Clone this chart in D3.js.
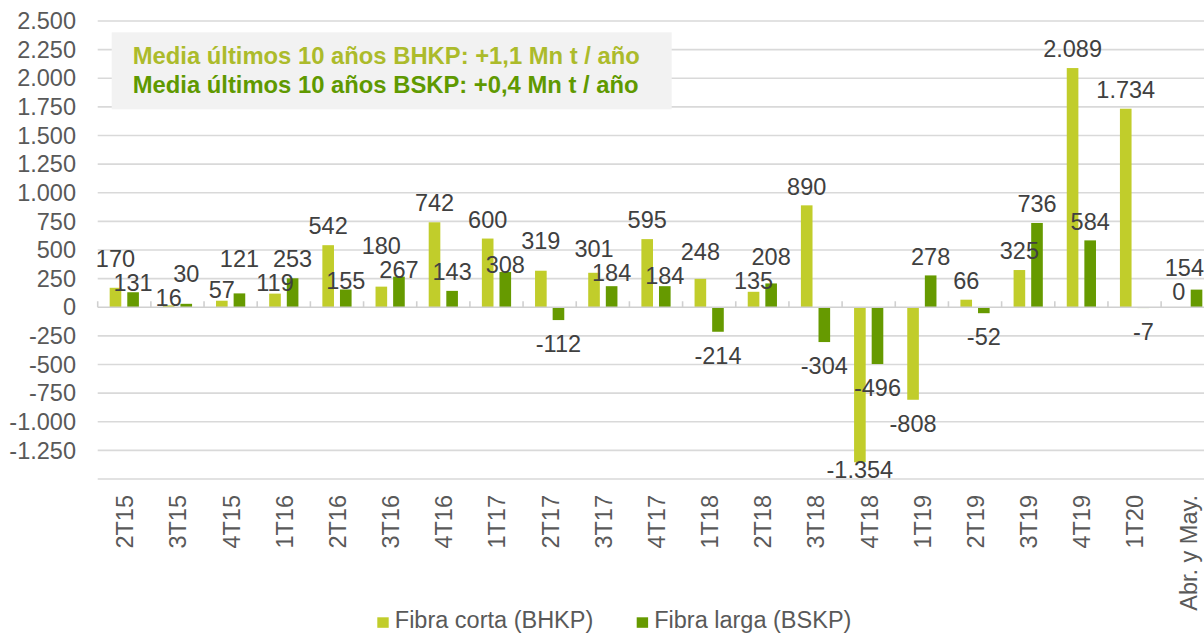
<!DOCTYPE html>
<html>
<head>
<meta charset="utf-8">
<script src="https://cdn.jsdelivr.net/npm/d3@7"></script>
<style>
  html, body { margin: 0; padding: 0; background: #ffffff; }
  svg { display: block; font-family: "Liberation Sans", Arial, sans-serif; }
</style>
</head>
<body>
<svg id="chart" width="1204" height="633"></svg>
<script>
const categories = ["2T15","3T15","4T15","1T16","2T16","3T16","4T16","1T17","2T17","3T17","4T17",
                    "1T18","2T18","3T18","4T18","1T19","2T19","3T19","4T19","1T20","Abr. y May."];
const bhkp = [170, 16, 57, 119, 542, 180, 742, 600, 319, 301, 595, 248, 135, 890, -1354, -808, 66, 325, 2089, 1734, 0];
const bskp = [131, 30, 121, 253, 155, 267, 143, 308, -112, 184, 184, -214, 208, -304, -496, 278, -52, 736, 584, -7, 154];
const seriesNames = ["Fibra corta (BHKP)", "Fibra larga (BSKP)"];
const yTickValues = [-1250, -1000, -750, -500, -250, 0, 250, 500, 750, 1000, 1250, 1500, 1750, 2000, 2250, 2500];
const gridValues = [-1500, -1250, -1000, -750, -500, -250, 250, 500, 750, 1000, 1250, 1500, 1750, 2000, 2250, 2500];
const yDomain = [-1500, 2500];
const noteLines = ["Media últimos 10 años BHKP: +1,1 Mn t / año", "Media últimos 10 años BSKP: +0,4 Mn t / año"];

(function () {
const colors = ["#c1cd2b", "#669a00"];
const noteColors = ["#acbb2b", "#5f9900"];
const FS = "23.5px";
const W = 1204;

const svg = d3.select("#chart");
const locale = d3.formatLocale({decimal: ",", thousands: ".", grouping: [3], currency: ["", ""], minus: "-"});
const fmt = locale.format(",d");

const pLeft = 97.7, pRight = 1214.3, pTop = 21, pBottom = 479;
const x = d3.scaleBand().domain(categories).range([pLeft, pRight]).paddingInner(0).paddingOuter(0);
const xs = d3.scaleBand().domain([0, 1]).range([0, x.bandwidth()]).paddingInner(0.34).paddingOuter(0.68);
const y = d3.scaleLinear().domain(yDomain).range([pBottom, pTop]);

// gridlines
svg.append("g").selectAll("line").data(gridValues).join("line")
  .attr("x1", pLeft).attr("x2", pRight)
  .attr("y1", d => y(d)).attr("y2", d => y(d))
  .attr("stroke", "#d9d9d9").attr("stroke-width", 1.6);

// note box
const box = svg.append("g");
box.append("rect").attr("x", 111.7).attr("y", 32.3).attr("width", 560).attr("height", 77).attr("fill", "#f2f2f2");
box.selectAll("text").data(noteLines).join("text")
  .attr("x", 132.7).attr("y", (d, i) => 64.3 + i * 29)
  .attr("fill", (d, i) => noteColors[i])
  .attr("font-size", "23.8px").attr("font-weight", "bold")
  .text(d => d);

// bars
const series = [bhkp, bskp];
const barsG = svg.append("g");
series.forEach((vals, si) => {
  barsG.selectAll(null).data(vals).join("rect")
    .attr("x", (d, i) => x(categories[i]) + xs(si))
    .attr("width", xs.bandwidth())
    .attr("y", d => y(Math.max(0, d)))
    .attr("height", d => Math.abs(y(d) - y(0)))
    .attr("fill", colors[si]);
});

// zero axis line with category ticks
svg.append("line").attr("x1", pLeft).attr("x2", pRight).attr("y1", y(0)).attr("y2", y(0))
  .attr("stroke", "#d0d0d0").attr("stroke-width", 1.6);
const tickPos = categories.map(c => x(c));
svg.append("g").selectAll("line").data(tickPos).join("line")
  .attr("x1", d => d).attr("x2", d => d)
  .attr("y1", y(0) - 6).attr("y2", y(0))
  .attr("stroke", "#d0d0d0").attr("stroke-width", 1.6);

// data labels with simple collision resolution
const labelsG = svg.append("g").attr("font-size", FS).attr("fill", "#404040").attr("text-anchor", "middle");
const labels = [];
series.forEach((vals, si) => {
  vals.forEach((v, i) => {
    const t = labelsG.append("text").text(fmt(v));
    const w = t.node().getComputedTextLength();
    let cx = x(categories[i]) + xs(si) + xs.bandwidth() / 2;
    cx = Math.min(cx, W - w / 2);
    const cy = v >= 0 ? y(v) - 19 : y(v) + 24;
    t.attr("x", cx);
    labels.push({v, cx, cy, w, node: t});
  });
});
const H = 24;
for (let it = 0; it < 60; it++) {
  for (let a = 0; a < labels.length; a++) {
    for (let b = a + 1; b < labels.length; b++) {
      const A = labels[a], B = labels[b];
      const ox = (A.w + B.w) / 2 - Math.abs(A.cx - B.cx) + 1;
      const oy = H - Math.abs(A.cy - B.cy);
      if (ox > 0 && oy > 0) {
        let upper = A, lower = B;
        if (A.cy > B.cy || (A.cy === B.cy && A.v < B.v)) { upper = B; lower = A; }
        upper.cy -= oy / 2; lower.cy += oy / 2;
      }
    }
  }
}
labels.forEach(l => {
  const c = Math.min(l.cy, pBottom - 9);
  l.node.attr("y", c + 8.2);
});

// y tick labels
svg.append("g").selectAll("text").data(yTickValues).join("text")
  .attr("x", 76).attr("y", d => y(d) + 8.2)
  .attr("text-anchor", "end").attr("font-size", FS).attr("fill", "#595959")
  .text(d => fmt(d));

// x tick labels (rotated)
svg.append("g").selectAll("text").data(categories).join("text")
  .attr("transform", d => `translate(${x(d) + x.bandwidth() / 2},495) rotate(-90)`)
  .attr("dy", "0.38em")
  .attr("text-anchor", "end").attr("font-size", FS).attr("fill", "#595959")
  .text(d => d);

// legend
const legendX = [377.3, 636.7];
const lg = svg.append("g");
seriesNames.forEach((name, i) => {
  lg.append("rect").attr("x", legendX[i]).attr("y", 617.3).attr("width", 11.4).attr("height", 10.5).attr("fill", colors[i]);
  lg.append("text").attr("x", legendX[i] + 17.5).attr("y", 627.8)
    .attr("font-size", FS).attr("fill", "#595959").text(name);
});
})();
</script>
</body>
</html>
